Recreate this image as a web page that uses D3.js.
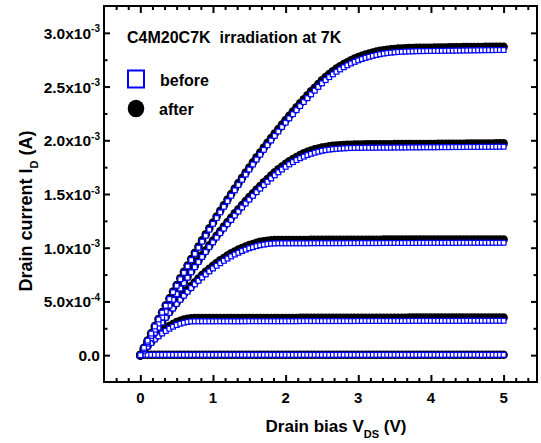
<!DOCTYPE html>
<html>
<head>
<meta charset="utf-8">
<script src="https://cdn.jsdelivr.net/npm/d3@7"></script>
<style>
  body { margin: 0; background: #fff; }
  svg { display: block; font-family: "Liberation Sans", Arial, sans-serif; font-weight: bold; }
</style>
</head>
<body>
<div id="chart"></div>
<script>
// drain bias (V), one point every 50 mV
let vds = [
  0, 0.05, 0.1, 0.15, 0.2, 0.25, 0.3, 0.35, 0.4, 0.45,
  0.5, 0.55, 0.6, 0.65, 0.7, 0.75, 0.8, 0.85, 0.9, 0.95,
  1, 1.05, 1.1, 1.15, 1.2, 1.25, 1.3, 1.35, 1.4, 1.45,
  1.5, 1.55, 1.6, 1.65, 1.7, 1.75, 1.8, 1.85, 1.9, 1.95,
  2, 2.05, 2.1, 2.15, 2.2, 2.25, 2.3, 2.35, 2.4, 2.45,
  2.5, 2.55, 2.6, 2.65, 2.7, 2.75, 2.8, 2.85, 2.9, 2.95,
  3, 3.05, 3.1, 3.15, 3.2, 3.25, 3.3, 3.35, 3.4, 3.45,
  3.5, 3.55, 3.6, 3.65, 3.7, 3.75, 3.8, 3.85, 3.9, 3.95,
  4, 4.05, 4.1, 4.15, 4.2, 4.25, 4.3, 4.35, 4.4, 4.45,
  4.5, 4.55, 4.6, 4.65, 4.7, 4.75, 4.8, 4.85, 4.9, 4.95,
  5
];

// drain current in mA, before irradiation (five gate biases)
let before1 = [
  0, 0.002, 0.003, 0.003, 0.003, 0.003, 0.003, 0.003, 0.003, 0.003,
  0.003, 0.003, 0.003, 0.003, 0.003, 0.003, 0.003, 0.003, 0.003, 0.003,
  0.003, 0.003, 0.003, 0.003, 0.003, 0.003, 0.003, 0.003, 0.003, 0.003,
  0.003, 0.003, 0.003, 0.003, 0.003, 0.003, 0.003, 0.003, 0.003, 0.003,
  0.003, 0.003, 0.003, 0.003, 0.003, 0.003, 0.003, 0.003, 0.003, 0.003,
  0.003, 0.003, 0.003, 0.003, 0.003, 0.003, 0.003, 0.003, 0.003, 0.003,
  0.003, 0.003, 0.003, 0.003, 0.003, 0.003, 0.003, 0.003, 0.003, 0.003,
  0.003, 0.003, 0.003, 0.003, 0.003, 0.003, 0.003, 0.003, 0.003, 0.003,
  0.003, 0.003, 0.003, 0.003, 0.003, 0.003, 0.003, 0.003, 0.003, 0.003,
  0.003, 0.003, 0.003, 0.003, 0.003, 0.003, 0.003, 0.003, 0.003, 0.003,
  0.003
];
let before2 = [
  0, 0.041, 0.078, 0.113, 0.146, 0.175, 0.202, 0.225, 0.246, 0.265,
  0.280, 0.293, 0.302, 0.309, 0.314, 0.315, 0.315, 0.315, 0.315, 0.315,
  0.315, 0.315, 0.315, 0.315, 0.315, 0.315, 0.315, 0.315, 0.315, 0.316,
  0.316, 0.316, 0.316, 0.316, 0.316, 0.316, 0.316, 0.316, 0.316, 0.316,
  0.316, 0.316, 0.316, 0.316, 0.317, 0.317, 0.317, 0.317, 0.317, 0.317,
  0.317, 0.317, 0.317, 0.317, 0.317, 0.317, 0.317, 0.317, 0.317, 0.317,
  0.318, 0.318, 0.318, 0.318, 0.318, 0.318, 0.318, 0.318, 0.318, 0.318,
  0.318, 0.318, 0.318, 0.318, 0.319, 0.319, 0.319, 0.319, 0.319, 0.319,
  0.319, 0.319, 0.319, 0.319, 0.319, 0.319, 0.319, 0.319, 0.319, 0.319,
  0.320, 0.320, 0.320, 0.320, 0.320, 0.320, 0.320, 0.320, 0.320, 0.320,
  0.320
];
let before3 = [
  0, 0.054, 0.107, 0.158, 0.208, 0.256, 0.303, 0.348, 0.392, 0.434,
  0.476, 0.515, 0.553, 0.590, 0.625, 0.659, 0.692, 0.723, 0.752, 0.780,
  0.807, 0.832, 0.856, 0.878, 0.899, 0.919, 0.937, 0.953, 0.969, 0.982,
  0.995, 1.005, 1.015, 1.023, 1.029, 1.034, 1.038, 1.040, 1.041, 1.041,
  1.041, 1.041, 1.041, 1.041, 1.041, 1.041, 1.041, 1.042, 1.042, 1.042,
  1.042, 1.042, 1.042, 1.042, 1.042, 1.042, 1.042, 1.043, 1.043, 1.043,
  1.043, 1.043, 1.043, 1.043, 1.043, 1.043, 1.043, 1.044, 1.044, 1.044,
  1.044, 1.044, 1.044, 1.044, 1.044, 1.044, 1.044, 1.045, 1.045, 1.045,
  1.045, 1.045, 1.045, 1.045, 1.045, 1.045, 1.045, 1.045, 1.046, 1.046,
  1.046, 1.046, 1.046, 1.046, 1.046, 1.046, 1.046, 1.046, 1.046, 1.046,
  1.046
];
let before4 = [
  0, 0.061, 0.120, 0.179, 0.237, 0.294, 0.351, 0.406, 0.461, 0.515,
  0.568, 0.620, 0.671, 0.721, 0.771, 0.819, 0.867, 0.914, 0.960, 1.006,
  1.050, 1.094, 1.136, 1.178, 1.219, 1.259, 1.299, 1.337, 1.375, 1.412,
  1.448, 1.483, 1.517, 1.550, 1.583, 1.614, 1.645, 1.674, 1.702, 1.728,
  1.753, 1.776, 1.797, 1.816, 1.833, 1.848, 1.862, 1.874, 1.885, 1.894,
  1.902, 1.908, 1.913, 1.917, 1.920, 1.923, 1.925, 1.927, 1.928, 1.929,
  1.930, 1.930, 1.931, 1.931, 1.931, 1.931, 1.932, 1.932, 1.932, 1.932,
  1.933, 1.933, 1.933, 1.933, 1.934, 1.934, 1.934, 1.934, 1.935, 1.935,
  1.935, 1.935, 1.936, 1.936, 1.936, 1.936, 1.937, 1.937, 1.937, 1.937,
  1.938, 1.938, 1.938, 1.938, 1.939, 1.939, 1.939, 1.939, 1.940, 1.940,
  1.940
];
let before5 = [
  0, 0.068, 0.135, 0.201, 0.267, 0.332, 0.396, 0.460, 0.522, 0.585,
  0.646, 0.707, 0.767, 0.826, 0.885, 0.943, 1.000, 1.057, 1.112, 1.168,
  1.222, 1.276, 1.329, 1.381, 1.433, 1.484, 1.534, 1.584, 1.632, 1.681,
  1.728, 1.775, 1.821, 1.866, 1.911, 1.955, 1.998, 2.041, 2.082, 2.124,
  2.164, 2.204, 2.243, 2.281, 2.319, 2.356, 2.392, 2.428, 2.462, 2.497,
  2.530, 2.560, 2.588, 2.614, 2.638, 2.660, 2.680, 2.698, 2.715, 2.730,
  2.744, 2.756, 2.767, 2.777, 2.786, 2.794, 2.801, 2.807, 2.812, 2.816,
  2.819, 2.822, 2.824, 2.826, 2.827, 2.828, 2.829, 2.830, 2.830, 2.831,
  2.831, 2.832, 2.832, 2.833, 2.833, 2.834, 2.834, 2.835, 2.835, 2.836,
  2.836, 2.837, 2.837, 2.838, 2.838, 2.839, 2.839, 2.839, 2.840, 2.840,
  2.840
];

// drain current in mA, after irradiation
let after1 = [
  0, 0.003, 0.004, 0.004, 0.004, 0.004, 0.004, 0.004, 0.004, 0.004,
  0.004, 0.004, 0.004, 0.004, 0.004, 0.004, 0.004, 0.004, 0.004, 0.004,
  0.004, 0.004, 0.004, 0.004, 0.004, 0.004, 0.004, 0.004, 0.004, 0.004,
  0.004, 0.004, 0.004, 0.004, 0.004, 0.004, 0.004, 0.004, 0.004, 0.004,
  0.004, 0.004, 0.004, 0.004, 0.004, 0.004, 0.004, 0.004, 0.004, 0.004,
  0.004, 0.004, 0.004, 0.004, 0.004, 0.004, 0.004, 0.004, 0.004, 0.004,
  0.004, 0.004, 0.004, 0.004, 0.004, 0.004, 0.004, 0.004, 0.004, 0.004,
  0.004, 0.004, 0.004, 0.004, 0.004, 0.004, 0.004, 0.004, 0.004, 0.004,
  0.004, 0.004, 0.004, 0.004, 0.004, 0.004, 0.004, 0.004, 0.004, 0.004,
  0.004, 0.004, 0.004, 0.004, 0.004, 0.004, 0.004, 0.004, 0.004, 0.004,
  0.004
];
let after2 = [
  0, 0.044, 0.086, 0.124, 0.159, 0.192, 0.221, 0.247, 0.270, 0.290,
  0.307, 0.320, 0.331, 0.339, 0.343, 0.345, 0.345, 0.345, 0.345, 0.345,
  0.345, 0.345, 0.345, 0.345, 0.345, 0.345, 0.345, 0.345, 0.345, 0.346,
  0.346, 0.346, 0.346, 0.346, 0.346, 0.346, 0.346, 0.346, 0.346, 0.346,
  0.346, 0.346, 0.346, 0.346, 0.347, 0.347, 0.347, 0.347, 0.347, 0.347,
  0.347, 0.347, 0.347, 0.347, 0.347, 0.347, 0.347, 0.347, 0.347, 0.347,
  0.348, 0.348, 0.348, 0.348, 0.348, 0.348, 0.348, 0.348, 0.348, 0.348,
  0.348, 0.348, 0.348, 0.348, 0.349, 0.349, 0.349, 0.349, 0.349, 0.349,
  0.349, 0.349, 0.349, 0.349, 0.349, 0.349, 0.349, 0.349, 0.349, 0.349,
  0.350, 0.350, 0.350, 0.350, 0.350, 0.350, 0.350, 0.350, 0.350, 0.350,
  0.350
];
let after3 = [
  0, 0.056, 0.110, 0.163, 0.214, 0.264, 0.312, 0.358, 0.404, 0.447,
  0.490, 0.530, 0.570, 0.608, 0.644, 0.679, 0.713, 0.745, 0.775, 0.803,
  0.831, 0.857, 0.882, 0.904, 0.926, 0.947, 0.965, 0.982, 0.998, 1.011,
  1.025, 1.035, 1.045, 1.054, 1.060, 1.065, 1.069, 1.071, 1.072, 1.072,
  1.072, 1.072, 1.072, 1.072, 1.072, 1.072, 1.072, 1.073, 1.073, 1.073,
  1.073, 1.073, 1.073, 1.073, 1.073, 1.073, 1.073, 1.074, 1.074, 1.074,
  1.074, 1.074, 1.074, 1.074, 1.074, 1.074, 1.074, 1.075, 1.075, 1.075,
  1.075, 1.075, 1.075, 1.075, 1.075, 1.075, 1.075, 1.076, 1.076, 1.076,
  1.076, 1.076, 1.076, 1.076, 1.076, 1.076, 1.076, 1.076, 1.077, 1.077,
  1.077, 1.077, 1.077, 1.077, 1.077, 1.077, 1.077, 1.077, 1.077, 1.077,
  1.077
];
let after4 = [
  0, 0.062, 0.122, 0.182, 0.241, 0.299, 0.357, 0.412, 0.468, 0.523,
  0.577, 0.630, 0.682, 0.733, 0.783, 0.832, 0.881, 0.929, 0.975, 1.022,
  1.067, 1.112, 1.154, 1.197, 1.239, 1.279, 1.320, 1.358, 1.397, 1.435,
  1.471, 1.507, 1.541, 1.575, 1.608, 1.640, 1.671, 1.701, 1.729, 1.756,
  1.781, 1.804, 1.826, 1.845, 1.862, 1.878, 1.892, 1.904, 1.915, 1.924,
  1.932, 1.938, 1.944, 1.948, 1.951, 1.954, 1.956, 1.958, 1.959, 1.960,
  1.961, 1.961, 1.962, 1.962, 1.962, 1.962, 1.963, 1.963, 1.963, 1.963,
  1.964, 1.964, 1.964, 1.964, 1.965, 1.965, 1.965, 1.965, 1.966, 1.966,
  1.966, 1.966, 1.967, 1.967, 1.967, 1.967, 1.968, 1.968, 1.968, 1.968,
  1.969, 1.969, 1.969, 1.969, 1.970, 1.970, 1.970, 1.970, 1.971, 1.971,
  1.971
];
let after5 = [
  0, 0.069, 0.136, 0.203, 0.270, 0.336, 0.400, 0.465, 0.528, 0.591,
  0.653, 0.715, 0.775, 0.835, 0.895, 0.953, 1.011, 1.069, 1.124, 1.181,
  1.235, 1.290, 1.344, 1.396, 1.449, 1.500, 1.551, 1.601, 1.650, 1.700,
  1.747, 1.795, 1.841, 1.887, 1.932, 1.977, 2.020, 2.063, 2.105, 2.147,
  2.188, 2.228, 2.268, 2.306, 2.345, 2.382, 2.418, 2.455, 2.489, 2.524,
  2.558, 2.588, 2.617, 2.643, 2.667, 2.689, 2.709, 2.727, 2.745, 2.760,
  2.774, 2.786, 2.797, 2.808, 2.817, 2.825, 2.832, 2.838, 2.843, 2.847,
  2.850, 2.853, 2.855, 2.857, 2.858, 2.859, 2.860, 2.861, 2.861, 2.862,
  2.862, 2.863, 2.863, 2.864, 2.864, 2.865, 2.865, 2.866, 2.866, 2.867,
  2.867, 2.868, 2.868, 2.869, 2.869, 2.870, 2.870, 2.870, 2.871, 2.871,
  2.871
];

// axis ticks
let xTicks = [0, 1, 2, 3, 4, 5];
let yTicks = [0, 0.5, 1.0, 1.5, 2.0, 2.5, 3.0];   // mA
let yTickMantissa = ['0.0', '5.0x10', '1.0x10', '1.5x10', '2.0x10', '2.5x10', '3.0x10'];
let yTickExponent = ['', '-4', '-3', '-3', '-3', '-3', '-3'];

let seriesBefore = [before1, before2, before3, before4, before5];
let seriesAfter = [after1, after2, after3, after4, after5];

let width = 541,
  height = 443;

let x = d3.scaleLinear().domain([-0.5, 5.46]).range([104, 537]);
let y = d3.scaleLinear().domain([-0.25, 3.25]).range([382, 6]);

// minor ticks: 1/6 V on x, 0.25 mA on y
let xMinor = d3.range(-2, 33).filter(k => k % 6 !== 0).map(k => k / 6);
let yMinor = d3.range(0.25, 3.0, 0.5);

const svg = d3.select('#chart').append('svg')
  .attr('width', width)
  .attr('height', height);

svg.append('rect')
  .attr('width', width)
  .attr('height', height)
  .attr('fill', '#fff');

// data: after (black dots) underneath, before (blue squares) on top
const plot = svg.append('g');

seriesAfter.forEach(s => {
  plot.append('g').selectAll('circle')
    .data(s)
    .enter().append('circle')
    .attr('cx', (d, i) => x(vds[i]))
    .attr('cy', d => y(d))
    .attr('r', 4.3)
    .attr('fill', '#000');
});

seriesBefore.forEach(s => {
  plot.append('g').selectAll('rect')
    .data(s)
    .enter().append('rect')
    .attr('x', (d, i) => x(vds[i]) - 2.4)
    .attr('y', d => y(d) - 2.4)
    .attr('width', 4.8)
    .attr('height', 4.8)
    .attr('fill', '#fff')
    .attr('stroke', '#0000ff')
    .attr('stroke-width', 1.2);
});

// frame + inward ticks on all four sides
svg.append('rect')
  .attr('x', x.range()[0])
  .attr('y', y.range()[1])
  .attr('width', x.range()[1] - x.range()[0])
  .attr('height', y.range()[0] - y.range()[1])
  .attr('fill', 'none')
  .attr('stroke', '#000')
  .attr('stroke-width', 2);

function tickLayer(axis, tx, ty) {
  svg.append('g')
    .attr('transform', `translate(${tx},${ty})`)
    .call(axis.tickFormat(''))
    .call(g => g.select('.domain').remove())
    .call(g => g.selectAll('line').attr('stroke', '#000').attr('stroke-width', 2));
}

tickLayer(d3.axisBottom(x).tickValues(xTicks).tickSize(-7), 0, 382);
tickLayer(d3.axisBottom(x).tickValues(xMinor).tickSize(-4), 0, 382);
tickLayer(d3.axisTop(x).tickValues(xTicks).tickSize(-7), 0, 6);
tickLayer(d3.axisTop(x).tickValues(xMinor).tickSize(-4), 0, 6);
tickLayer(d3.axisLeft(y).tickValues(yTicks).tickSize(-6), 104, 0);
tickLayer(d3.axisLeft(y).tickValues(yMinor).tickSize(-3.5), 104, 0);
tickLayer(d3.axisRight(y).tickValues(yTicks).tickSize(-6), 537, 0);
tickLayer(d3.axisRight(y).tickValues(yMinor).tickSize(-3.5), 537, 0);

// tick labels
svg.append('g').selectAll('text')
  .data(xTicks)
  .enter().append('text')
  .attr('x', d => x(d))
  .attr('y', 403)
  .attr('text-anchor', 'middle')
  .style('font-size', '15px')
  .text(d => d);

const yl = svg.append('g').selectAll('text')
  .data(yTicks)
  .enter().append('text')
  .attr('x', 100)
  .attr('y', d => y(d) + 6)
  .attr('text-anchor', 'end')
  .style('font-size', '15.5px');

yl.append('tspan').text((d, i) => yTickMantissa[i]);
yl.filter((d, i) => yTickExponent[i] !== '').append('tspan')
  .attr('dy', -6.5)
  .style('font-size', '10px')
  .text(d => yTickExponent[yTicks.indexOf(d)]);

// axis titles
const xt = svg.append('text')
  .attr('x', 336)
  .attr('y', 431.5)
  .attr('text-anchor', 'middle')
  .style('font-size', '17px');
xt.append('tspan').text('Drain bias V');
xt.append('tspan').attr('dy', 6).style('font-size', '11px').text('DS');
xt.append('tspan').attr('dy', -6).text(' (V)');

const yt = svg.append('text')
  .attr('transform', 'translate(31.5,211) rotate(-90)')
  .attr('text-anchor', 'middle')
  .style('font-size', '18px');
yt.append('tspan').text('Drain current I');
yt.append('tspan').attr('dy', 6).style('font-size', '11px').text('D');
yt.append('tspan').attr('dy', -6).text(' (A)');

// annotation + legend
svg.append('text')
  .attr('x', 127)
  .attr('y', 42.5)
  .style('font-size', '16px')
  .style('white-space', 'pre')
  .text('C4M20C7K  irradiation at 7K');

svg.append('rect')
  .attr('x', 128)
  .attr('y', 70.5)
  .attr('width', 16)
  .attr('height', 17)
  .attr('fill', 'none')
  .attr('stroke', '#0000ff')
  .attr('stroke-width', 2);
svg.append('text')
  .attr('x', 160)
  .attr('y', 85.5)
  .style('font-size', '16px')
  .text('before');

svg.append('ellipse')
  .attr('cx', 136)
  .attr('cy', 108.5)
  .attr('rx', 8.3)
  .attr('ry', 8.7)
  .attr('fill', '#000');
svg.append('text')
  .attr('x', 159)
  .attr('y', 115)
  .style('font-size', '16px')
  .text('after');
</script>
</body>
</html>
